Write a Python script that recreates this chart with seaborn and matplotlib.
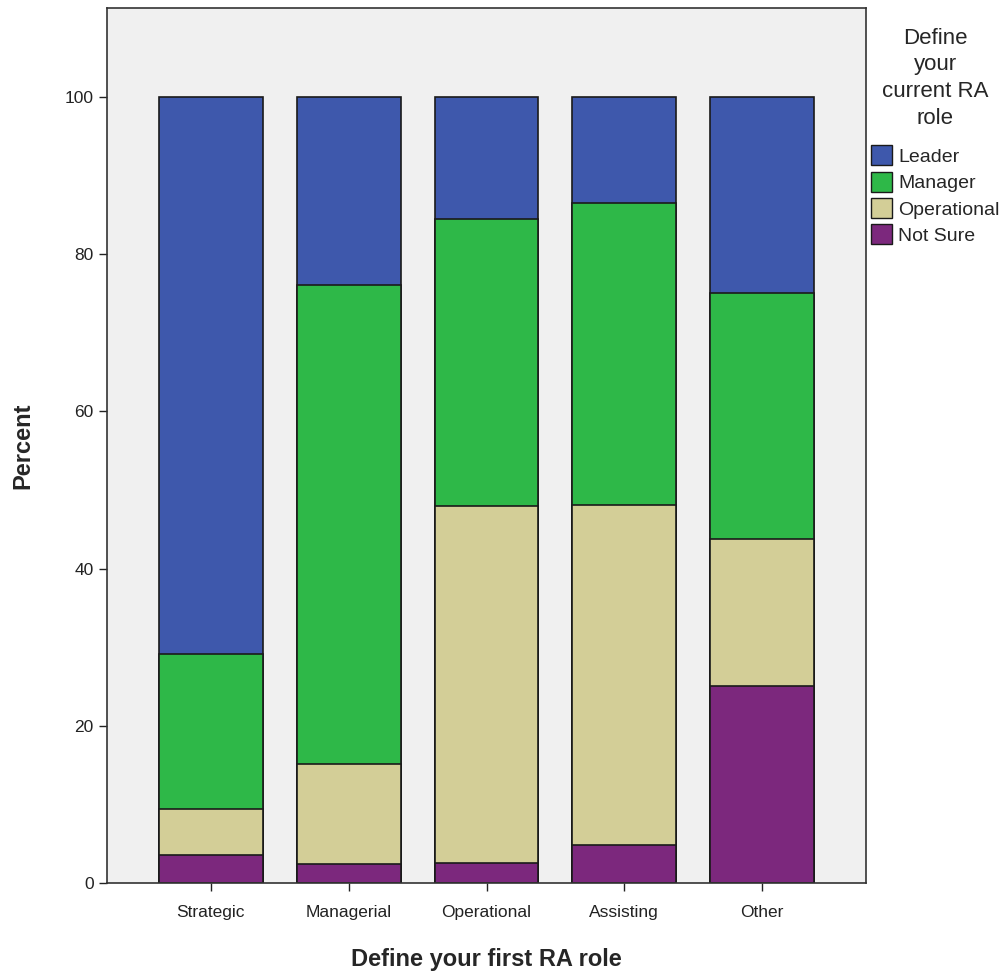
import matplotlib
matplotlib.use("Agg")
import matplotlib.pyplot as plt
import seaborn as sns
import numpy as np
import pandas as pd
from matplotlib.patches import Patch

first_roles = ["Strategic", "Managerial", "Operational", "Assisting", "Other"]
current_roles = ["Leader", "Manager", "Operational", "Not Sure"]

# percentages per first role (each column sums to 100)
not_sure = [3.5, 2.4, 2.5, 4.8, 25.0]
operational = [5.9, 12.7, 45.5, 43.3, 18.75]
manager = [19.7, 61.0, 36.4, 38.4, 31.25]
leader = [70.9, 23.9, 15.6, 13.5, 25.0]

colors = {
    "Leader": "#3e58ac",
    "Manager": "#2eb848",
    "Operational": "#d3ce97",
    "Not Sure": "#7c287d",
}

sns.set_theme(style="white")
plt.rcParams["font.family"] = ["Arial", "Liberation Sans", "DejaVu Sans"]

fig = plt.figure(figsize=(10.05, 9.76), dpi=100)
ax = fig.add_axes([107 / 1005, 1 - 883 / 976, (866 - 107) / 1005, (883 - 8) / 976])
ax.set_facecolor("#f0f0f0")

layers = [not_sure, operational, manager, leader]
names = ["Not Sure", "Operational", "Manager", "Leader"]
cum = np.cumsum(np.array(layers), axis=0)
cum = cum / cum[-1] * 100

# draw tallest stack first so lower segments sit on top
for i in range(len(names) - 1, -1, -1):
    df = pd.DataFrame({"role": first_roles, "pct": cum[i]})
    sns.barplot(data=df, x="role", y="pct", color=colors[names[i]],
                width=0.754, edgecolor="#1a1a1a", linewidth=1.2,
                saturation=1, ax=ax)

ax.set_xlim(-0.754, 4.754)
ax.set_ylim(0, 111.3)
ax.set_yticks(range(0, 101, 20))
ax.tick_params(axis="both", labelsize=12.5, colors="#222222", length=6,
               width=1, direction="out", left=True, bottom=True)
ax.tick_params(axis="x", pad=10)
for s in ax.spines.values():
    s.set_color("#333333")
    s.set_linewidth(1.2)

ax.set_xlabel("Define your first RA role", fontsize=17, fontweight="bold", labelpad=20)
ax.set_ylabel("Percent", fontsize=17, fontweight="bold", labelpad=22)

handles = [Patch(facecolor=colors[n], edgecolor="#1a1a1a", linewidth=1) for n in current_roles]
leg = fig.legend(handles, current_roles, title="Define\nyour\ncurrent RA\nrole",
                 loc="upper left", bbox_to_anchor=(867 / 1005, 1 - 24 / 976),
                 frameon=False, fontsize=14, title_fontsize=16,
                 handlelength=1.1, handleheight=1.2, handletextpad=0.3,
                 labelspacing=0.3, borderaxespad=0, borderpad=0.2)
leg.get_title().set_multialignment("center")
leg.get_title().set_linespacing(1.35)
leg._legend_box.sep = 12

fig.savefig("out.png", dpi=100)
